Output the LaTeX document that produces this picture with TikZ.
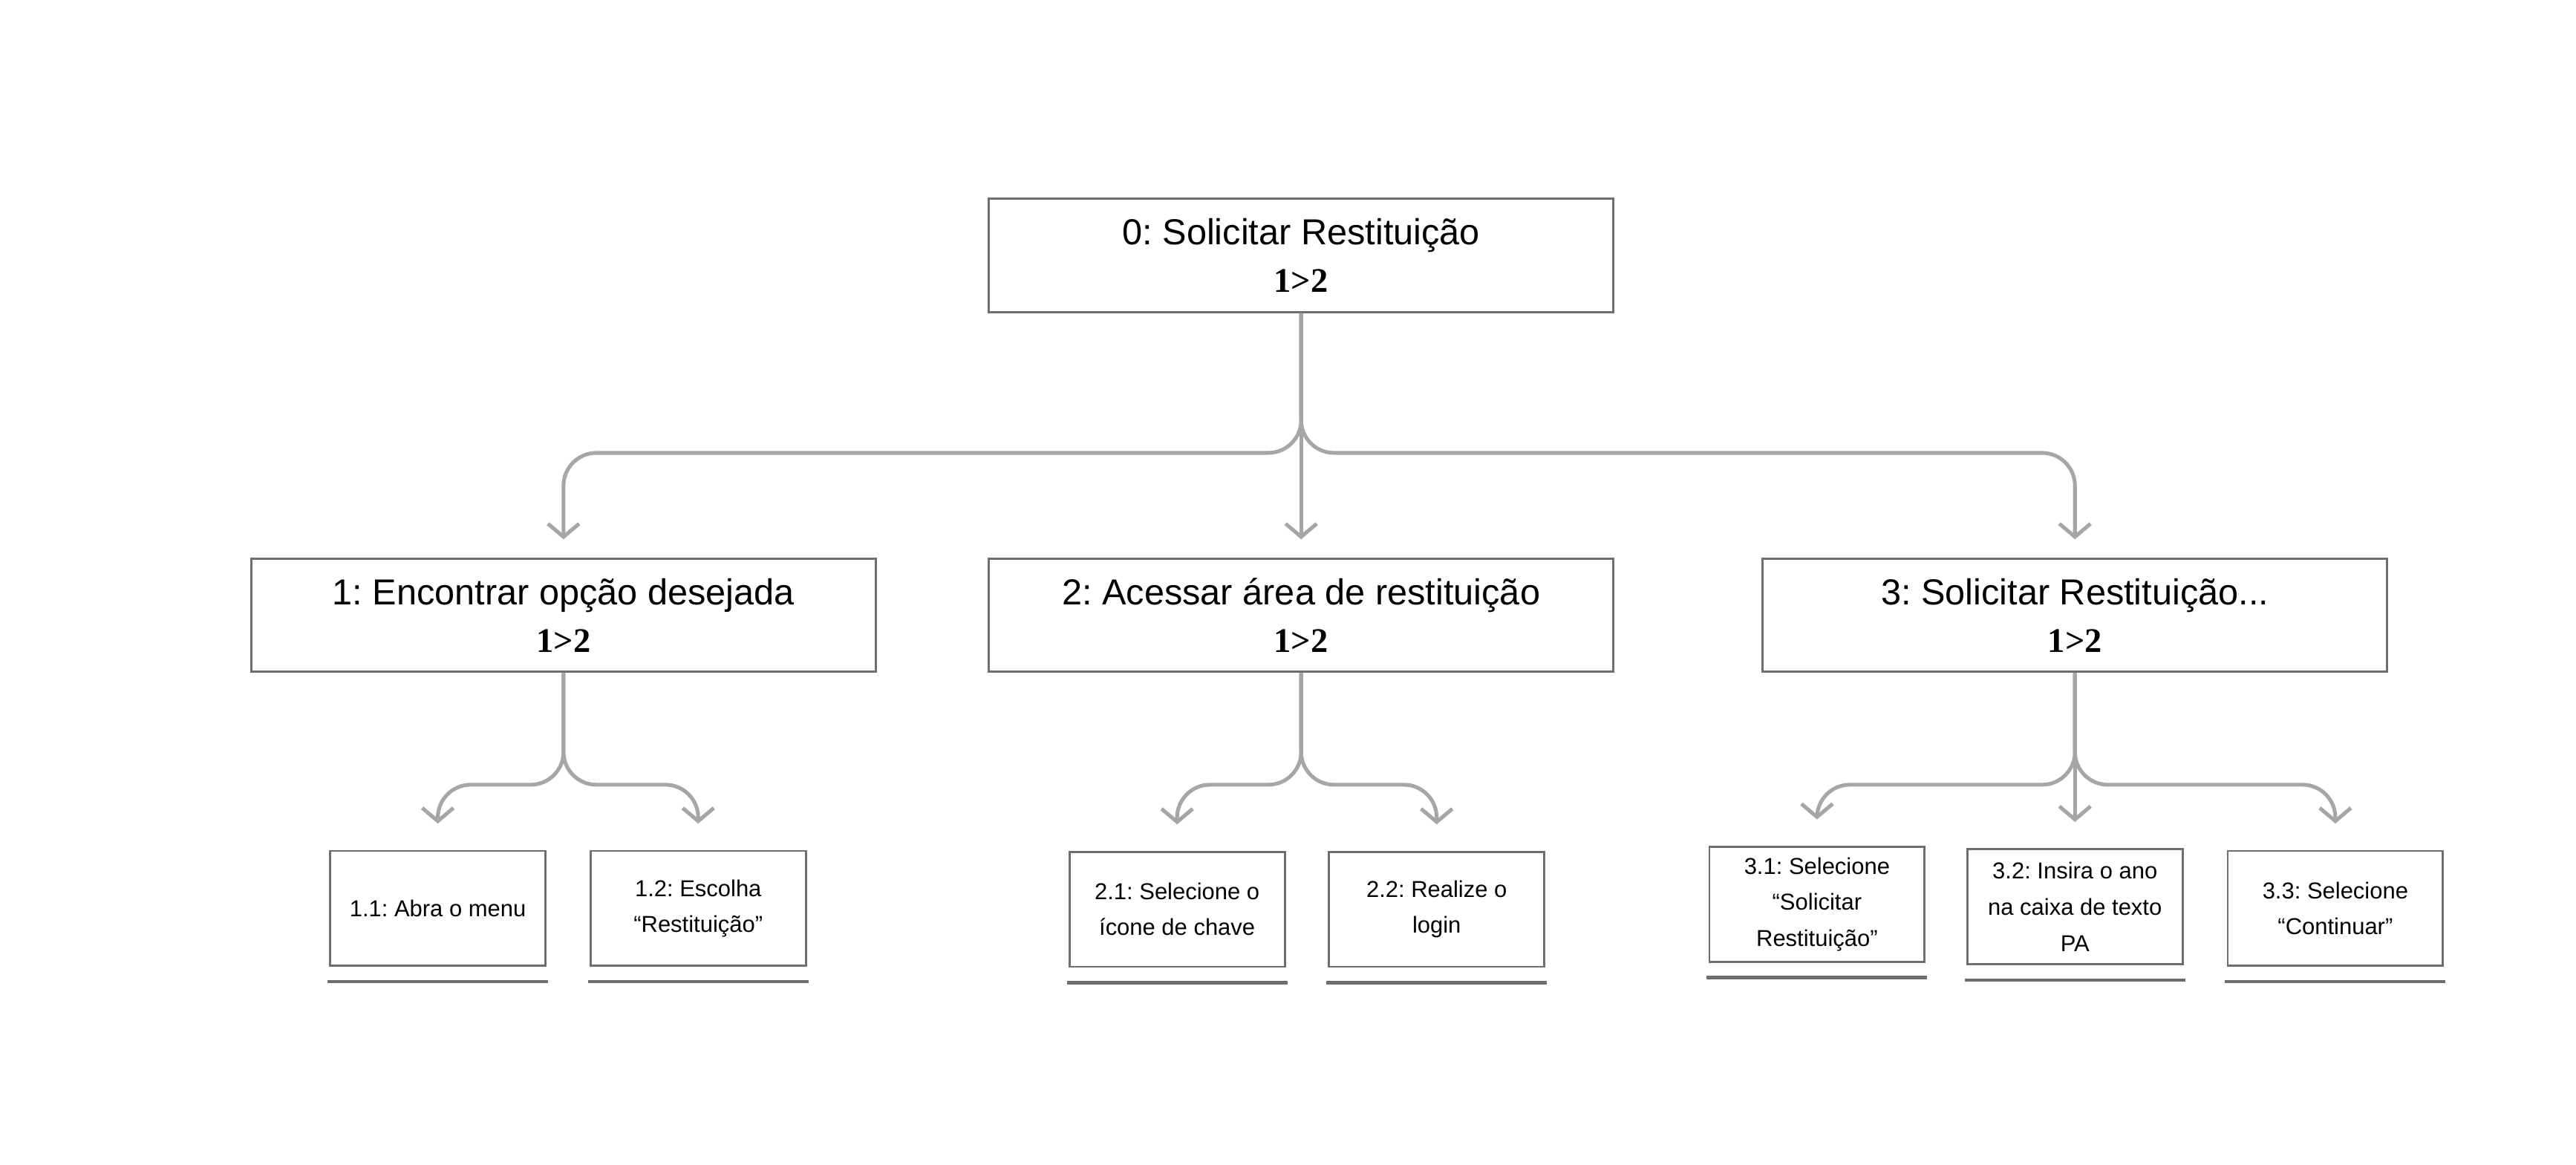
\documentclass[tikz,border=0pt]{standalone}
\usepackage{fontspec}
\setmainfont{Liberation Sans}
\newfontfamily\numfont{Liberation Serif}
\usepackage{tikz}
\usetikzlibrary{positioning,arrows.meta,calc}
\definecolor{boxgray}{HTML}{6E6E6E}
\definecolor{arrgray}{HTML}{A6A6A6}
\newcommand{\ordem}[1]{{\numfont\bfseries\fontsize{21}{29}\selectfont #1}}
\frenchspacing

\begin{document}
\begin{tikzpicture}[x=1pt, y=-1pt,
  task/.style={draw=boxgray, line width=1.4pt, minimum width=380pt, minimum height=69pt, align=center, font=\fontsize{22}{29}\selectfont},
  leaf/.style={draw=boxgray, line width=1.3pt, minimum width=131pt, minimum height=70pt, align=center, inner sep=2pt, font=\fontsize{14}{22}\selectfont},
  arr/.style={draw=arrgray, line width=2.3pt, rounded corners=20pt, -{Straight Barb[length=8pt,width=19pt]}},
  uline/.style={draw=boxgray, line width=2pt}]
\useasboundingbox (0,0) rectangle (1568,709);
\node[task] (goal) at (792,155.5) {0: Solicitar Restituição\\\ordem{1>2}};
\node[task] (find) at (343,374.5) {1: Encontrar opção desejada\\\ordem{1>2}};
\node[task] (access) at (792,374.5) {2: Acessar área de restituição\\\ordem{1>2}};
\node[task] (request) at (1263,374.5) {3: Solicitar Restituição...\\\ordem{1>2}};
\node[leaf] (menu) at (266.5,553) {1.1: Abra o menu};
\node[leaf] (choose) at (425,553) {1.2: Escolha\\“Restituição”};
\node[leaf] (key) at (716.5,553.5) {2.1: Selecione o\\ícone de chave};
\node[leaf] (login) at (874.5,553.5) {2.2: Realize o\\login};
\node[leaf] (select) at (1106,550.5) {3.1: Selecione\\“Solicitar\\Restituição”};
\node[leaf] (year) at (1263,552) {3.2: Insira o ano\\na caixa de texto\\PA};
\node[leaf] (next) at (1421.5,553) {3.3: Selecione\\“Continuar”};
\draw[arr] (goal.south) -- ++(0,85) -| ($(find.north)+(0,-11)$);
\draw[arr] (goal.south) -- ($(access.north)+(0,-11)$);
\draw[arr] (goal.south) -- ++(0,85) -| ($(request.north)+(0,-11)$);
\draw[arr] (find.south) -- ++(0,68) -| ($(menu.north)+(0,-16)$);
\draw[arr] (find.south) -- ++(0,68) -| ($(choose.north)+(0,-16)$);
\draw[arr] (access.south) -- ++(0,68) -| ($(key.north)+(0,-16)$);
\draw[arr] (access.south) -- ++(0,68) -| ($(login.north)+(0,-16)$);
\draw[arr] (request.south) -- ++(0,68) -| ($(select.north)+(0,-16)$);
\draw[arr] (request.south) -- ($(year.north)+(0,-16)$);
\draw[arr] (request.south) -- ++(0,68) -| ($(next.north)+(0,-16)$);
\foreach \n in {menu,choose,key,login,select,year,next}
  \draw[uline] ([xshift=-1pt,yshift=-9pt]\n.south west) -- ([xshift=1pt,yshift=-9pt]\n.south east);
\end{tikzpicture}
\end{document}
